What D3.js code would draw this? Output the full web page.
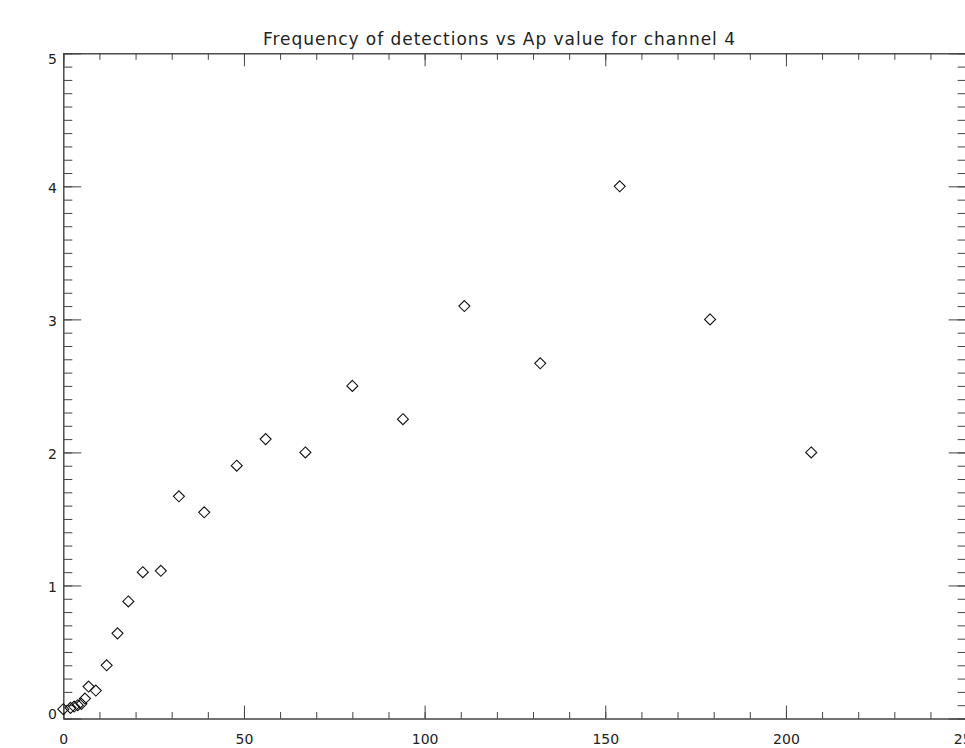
<!DOCTYPE html>
<html>
<head>
<meta charset="utf-8">
<script src="https://cdn.jsdelivr.net/npm/d3@7"></script>
<style>
  body { margin: 0; background: #fff; overflow: hidden; }
  text { font-family: "DejaVu Sans", sans-serif; fill: #222; }
</style>
</head>
<body>
<svg id="chart"></svg>
<script>
var W = 965, H = 748;

// Ap values (Kp equivalents) and detection frequency
var ap_vals = [0, 2, 3, 4, 5, 6, 7, 9, 12, 15, 18, 22, 27, 32, 39, 48, 56, 67, 80, 94, 111, 132, 154, 179, 207];
var freq_vals = [0.07, 0.08, 0.09, 0.10, 0.11, 0.15, 0.24, 0.21, 0.40, 0.64, 0.88, 1.10, 1.11, 1.67, 1.55, 1.90, 2.10, 2.00, 2.50, 2.25, 3.10, 2.67, 4.00, 3.00, 2.00];

var x_major = [0, 50, 100, 150, 200, 250];
var x_minor = d3.range(0, 251, 10);
var y_major = [0, 1, 2, 3, 4, 5];
var y_minor = d3.range(0, 51).map(function(d){ return d / 10; });

var title = "Frequency of detections vs Ap value for channel 4";

var p_left = 63.3, p_right = 966.6, p_top = 53.3, p_bottom = 718.5;

var svg = d3.select("#chart").attr("width", W).attr("height", H);

var x = d3.scaleLinear().domain([0, 250]).range([p_left, p_right]);
var y = d3.scaleLinear().domain([0, 5]).range([p_bottom, p_top]);

function style_axis(g){
	g.select(".domain").attr("stroke", "#444").attr("stroke-width", 1);
	g.selectAll(".tick line").attr("stroke", "#444").attr("stroke-width", 1);
	g.selectAll("text").attr("font-size", 14).attr("font-family", "DejaVu Sans, sans-serif").attr("fill", "#222");
}

// bottom axis
svg.append("g").attr("transform", "translate(0," + p_bottom + ")")
	.call(d3.axisBottom(x).tickValues(x_minor).tickSize(-6.5).tickSizeOuter(0).tickFormat(""))
	.call(style_axis);
svg.append("g").attr("transform", "translate(0," + p_bottom + ")")
	.call(d3.axisBottom(x).tickValues(x_major).tickSize(-13).tickSizeOuter(0).tickPadding(16).tickFormat(d3.format("d")))
	.call(style_axis);

// top axis
svg.append("g").attr("transform", "translate(0," + p_top + ")")
	.call(d3.axisTop(x).tickValues(x_minor).tickSize(-6.5).tickSizeOuter(0).tickFormat(""))
	.call(style_axis);
svg.append("g").attr("transform", "translate(0," + p_top + ")")
	.call(d3.axisTop(x).tickValues(x_major).tickSize(-13).tickSizeOuter(0).tickFormat(""))
	.call(style_axis);

// left axis
svg.append("g").attr("transform", "translate(" + p_left + ",0)")
	.call(d3.axisLeft(y).tickValues(y_minor).tickSize(-9).tickSizeOuter(0).tickFormat(""))
	.call(style_axis);
var yl = svg.append("g").attr("transform", "translate(" + p_left + ",0)")
	.call(d3.axisLeft(y).tickValues(y_major).tickSize(-18).tickSizeOuter(0).tickPadding(6.5).tickFormat(d3.format("d")))
	.call(style_axis);
// end labels kept inside the axis range
yl.selectAll(".tick text").attr("dy", function(d){
	if (d == 5) return "0.75em";
	if (d == 0) return "0em";
	return "0.42em";
});

// right axis
svg.append("g").attr("transform", "translate(" + p_right + ",0)")
	.call(d3.axisRight(y).tickValues(y_minor).tickSize(-9).tickSizeOuter(0).tickFormat(""))
	.call(style_axis);
svg.append("g").attr("transform", "translate(" + p_right + ",0)")
	.call(d3.axisRight(y).tickValues(y_major).tickSize(-18).tickSizeOuter(0).tickFormat(""))
	.call(style_axis);

// title
svg.append("text")
	.attr("x", 263).attr("y", 45)
	.attr("font-size", 17)
	.attr("textLength", 472)
	.attr("lengthAdjust", "spacing")
	.text(title);

// diamond markers
var pts = ap_vals.map(function(d, i){ return [d, freq_vals[i]]; });
svg.append("g").selectAll("path").data(pts).enter().append("path")
	.attr("d", function(d){
		var cx = x(d[0]), cy = y(d[1]), r = 5.5;
		return "M" + cx + "," + (cy - r) + "L" + (cx + r) + "," + cy + "L" + cx + "," + (cy + r) + "L" + (cx - r) + "," + cy + "Z";
	})
	.attr("fill", "none")
	.attr("stroke", "#111")
	.attr("stroke-width", 1.1);
</script>
</body>
</html>
